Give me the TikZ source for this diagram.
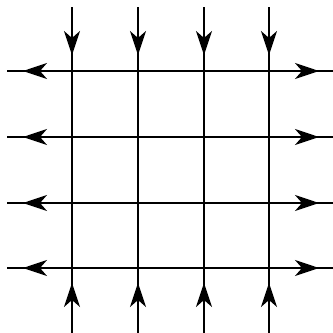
\documentclass[tikz,border=0pt]{standalone}
\usetikzlibrary{arrows.meta}
\begin{document}
\begin{tikzpicture}[x=1pt,y=-1pt,line width=2pt,
  arr/.style={-{Stealth[length=24pt,width=16pt,inset=7pt]}}]
\useasboundingbox (0,0) rectangle (333,333);
\foreach \x [count=\i] in {72,138,204,269} {
  \coordinate (vt\i) at (\x,7);
  \coordinate (vb\i) at (\x,333);
  \coordinate (vd\i) at (\x,55);
  \coordinate (vu\i) at (\x,283);
  \draw (vt\i) -- (vb\i);
  \draw[arr] (vt\i) -- (vd\i);
  \draw[arr] (vb\i) -- (vu\i);
}
\foreach \y [count=\i] in {71,137,203,268} {
  \coordinate (hl\i) at (7,\y);
  \coordinate (hr\i) at (333,\y);
  \coordinate (hm\i) at (72,\y);
  \coordinate (hn\i) at (269,\y);
  \coordinate (ha\i) at (23,\y);
  \coordinate (hb\i) at (319,\y);
  \draw (hl\i) -- (hr\i);
  \draw[arr] (hm\i) -- (ha\i);
  \draw[arr] (hn\i) -- (hb\i);
}
\end{tikzpicture}
\end{document}
